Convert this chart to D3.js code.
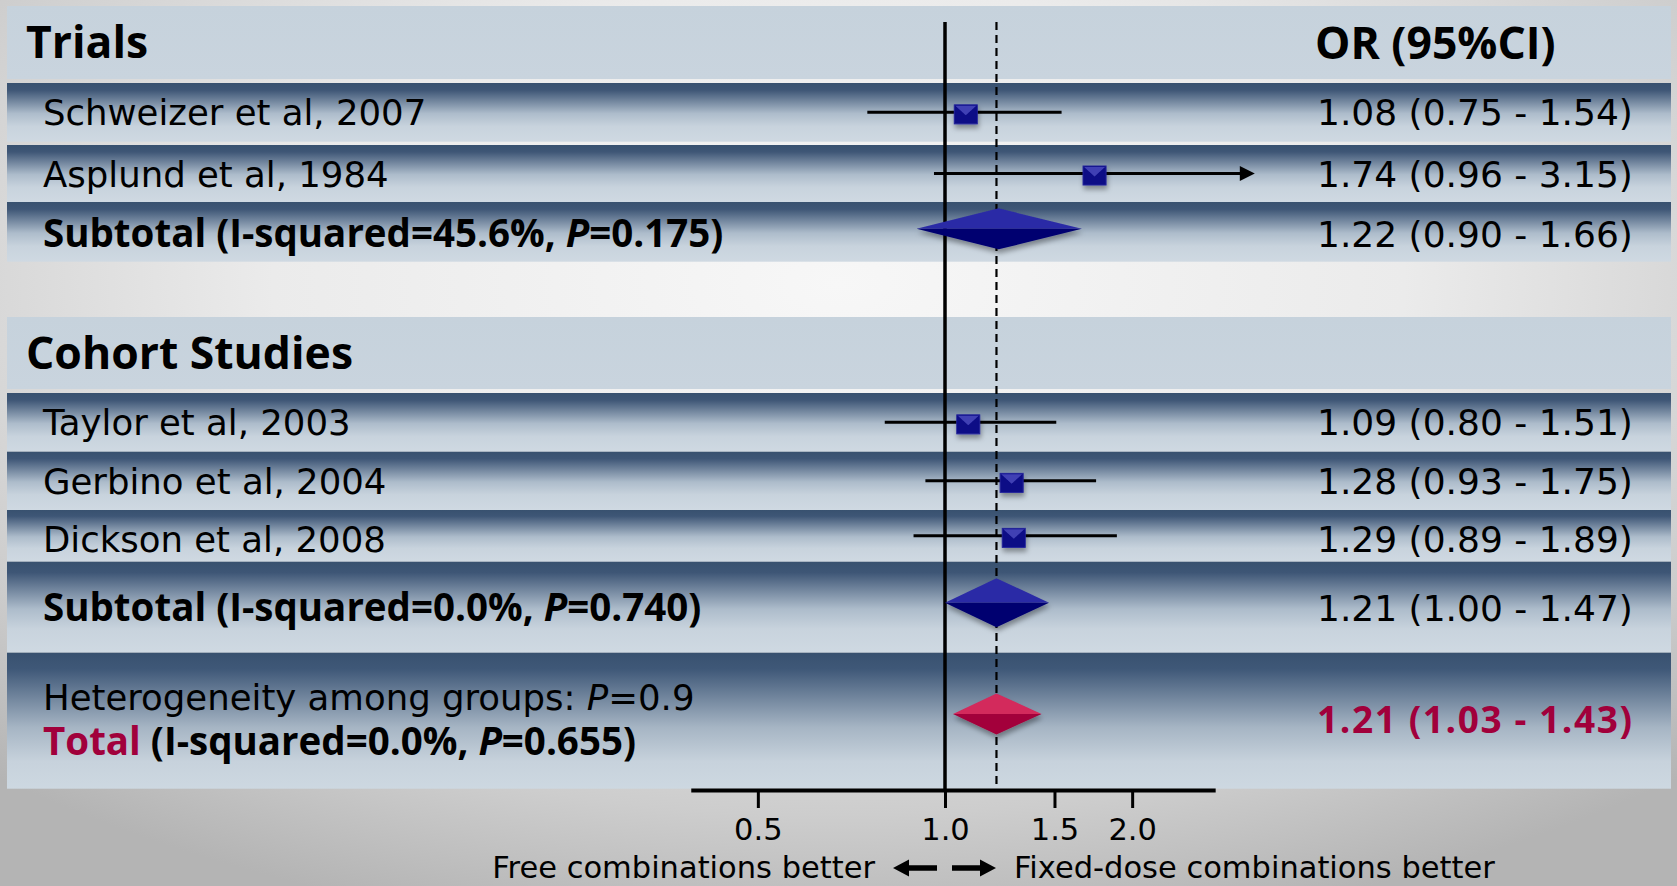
<!DOCTYPE html>
<html>
<head>
<meta charset="utf-8">
<script src="https://cdn.jsdelivr.net/npm/d3@7"></script>
<style>
  html, body { margin: 0; padding: 0; overflow: hidden; }
  svg { display: block; font-family: "DejaVu Sans", "Open Sans", sans-serif; }
  .b { font-family: "Open Sans", "DejaVu Sans", sans-serif; font-weight: bold; }
</style>
</head>
<body>
<svg width="1677" height="886"></svg>
<script>
// study level data
var studies   = ["Schweizer et al, 2007", "Asplund et al, 1984", "Taylor et al, 2003", "Gerbino et al, 2004", "Dickson et al, 2008"];
var studyOR   = [1.08, 1.74, 1.09, 1.28, 1.29];
var studyLo   = [0.75, 0.96, 0.80, 0.93, 0.89];
var studyHi   = [1.54, 3.15, 1.51, 1.75, 1.89];

// subgroup pooled estimates
var groups    = ["Trials", "Cohort Studies"];
var subI2     = ["45.6%", "0.0%"];
var subP      = ["0.175", "0.740"];
var subOR     = [1.22, 1.21];
var subLo     = [0.90, 1.00];
var subHi     = [1.66, 1.47];

// overall
var totalOR = 1.21, totalLo = 1.03, totalHi = 1.43;
var totalI2 = "0.0%", totalP = "0.655", hetP = "0.9";

// axis
var tickValues = [0.5, 1.0, 1.5, 2.0];
var axisExtent = [0.39, 2.72];
var leftLabel = "Free combinations better", rightLabel = "Fixed-dose combinations better";

var svg = d3.select("svg"),
    width = +svg.attr("width"),
    height = +svg.attr("height");

var fmt = d3.format(".2f");

// log scale, 1.0 sits on the no-effect line
var x = d3.scaleLog().domain([0.5, 2]).range([945 - 270 * Math.LN2, 945 + 270 * Math.LN2]);

// row layout (heights in px)
var layout = [
  {type: "header", g: 0, h: 73},
  {type: "gap", h: 4},
  {type: "study", i: 0, h: 58.7},
  {type: "gap", h: 3.3},
  {type: "study", i: 1, h: 57},
  {type: "sub", g: 0, h: 59.7},
  {type: "gap", h: 55.3},
  {type: "header", g: 1, h: 72},
  {type: "gap", h: 4},
  {type: "study", i: 2, h: 58.7},
  {type: "study", i: 3, h: 58.3},
  {type: "study", i: 4, h: 51.7},
  {type: "sub", g: 1, h: 91},
  {type: "total", h: 136}
];
var acc = 0;
layout.forEach(function(r) { r.u0 = acc; acc += r.h; });
var y = d3.scaleLinear().domain([0, acc]).range([6, 6 + acc]);

var bandX0 = 7, bandX1 = 1671, labelX = 43, valueX = 1317;
var fs = 35.5, fsVal = 36, fsBold = 38.5, fsHead = 44.5, fsAxis = 30.5;

// defs
var defs = svg.append("defs");
function grad(id, stops) {
  var g = defs.append("linearGradient").attr("id", id)
      .attr("x1", 0).attr("y1", 0).attr("x2", 0).attr("y2", 1);
  stops.forEach(function(s) { g.append("stop").attr("offset", s[0]).attr("stop-color", s[1]); });
}
var bg = defs.append("radialGradient").attr("id", "bg")
    .attr("cx", "50%").attr("cy", "32%").attr("r", "75%");
[[0, "#f7f7f7"], [0.45, "#ebebeb"], [0.8, "#cdcdcd"], [1, "#b4b4b4"]].forEach(function(s) {
  bg.append("stop").attr("offset", s[0]).attr("stop-color", s[1]);
});
grad("hdr", [[0, "#c6d2dc"], [1, "#c9d4de"]]);
grad("row", [[0, "#38516f"], [0.12, "#3e5676"], [0.52, "#adbccb"], [0.74, "#c8d3dd"], [1, "#cfd9e2"]]);
grad("tot", [[0, "#38516f"], [0.12, "#3f5878"], [0.55, "#a6b5c4"], [0.8, "#c7d2dc"], [1, "#cdd8e1"]]);

var sh = defs.append("filter").attr("id", "shadow").attr("x", "-30%").attr("y", "-30%").attr("width", "160%").attr("height", "190%");
sh.append("feDropShadow").attr("dx", 1).attr("dy", 4).attr("stdDeviation", 2.5)
  .attr("flood-color", "#000").attr("flood-opacity", 0.35);

svg.append("rect").attr("width", width).attr("height", height).attr("fill", "url(#bg)");

// bands
var bands = layout.filter(function(r) { return r.type !== "gap"; });
svg.append("g").selectAll("rect").data(bands).join("rect")
    .attr("x", bandX0).attr("width", bandX1 - bandX0)
    .attr("y", function(r) { return y(r.u0); })
    .attr("height", function(r) { return y(r.u0 + r.h) - y(r.u0); })
    .attr("fill", function(r) { return r.type === "header" ? "url(#hdr)" : r.type === "total" ? "url(#tot)" : "url(#row)"; });

// reference lines
var lineTop = 22, axisY = 790;
svg.append("line").attr("x1", x(1)).attr("x2", x(1)).attr("y1", lineTop).attr("y2", axisY)
    .attr("stroke", "#000").attr("stroke-width", 3.5);
svg.append("line").attr("x1", x(totalOR)).attr("x2", x(totalOR)).attr("y1", lineTop).attr("y2", axisY + 1)
    .attr("stroke", "#000").attr("stroke-width", 2.2).attr("stroke-dasharray", "8,5");

// texts
var txt = svg.append("g").attr("fill", "#000");
function rowOf(type, key, val) {
  return layout.filter(function(r) { return r.type === type && r[key] === val; })[0];
}

// headers
groups.forEach(function(gname, g) {
  var r = rowOf("header", "g", g);
  txt.append("text").attr("class", "b").attr("x", 26).attr("y", y(r.u0) + 52)
      .attr("font-size", fsHead).text(gname);
});
txt.append("text").attr("class", "b").attr("x", 1315).attr("y", y(0) + 53)
    .attr("font-size", fsHead).text("OR (95%CI)");

// study rows
var marks = svg.append("g");
studies.forEach(function(name, i) {
  var r = rowOf("study", "i", i),
      top = y(r.u0), cy = top + r.h / 2;
  txt.append("text").attr("x", labelX).attr("y", top + 42).attr("font-size", fs).text(name);
  txt.append("text").attr("x", valueX).attr("y", top + 42).attr("font-size", fsVal)
      .text(fmt(studyOR[i]) + " (" + fmt(studyLo[i]) + " - " + fmt(studyHi[i]) + ")");

  var hi = studyHi[i], clipped = hi > axisExtent[1];
  marks.append("line").attr("x1", x(studyLo[i])).attr("x2", clipped ? x(hi) - 12 : x(hi))
      .attr("y1", cy).attr("y2", cy).attr("stroke", "#000").attr("stroke-width", 3);
  if (clipped) {
    marks.append("path")
        .attr("d", "M" + x(hi) + "," + cy + "L" + (x(hi) - 15) + "," + (cy - 7.5) + "L" + (x(hi) - 15) + "," + (cy + 7.5) + "Z")
        .attr("fill", "#000");
  }
  var w = 23, h = 19, cx = x(studyOR[i]), sy = cy + 2;
  var sq = marks.append("g").attr("filter", "url(#shadow)");
  sq.append("rect").attr("x", cx - w / 2).attr("y", sy - h / 2).attr("width", w).attr("height", h)
      .attr("fill", "#0c0c86").attr("stroke", "#23239a").attr("stroke-width", 1);
  sq.append("path")
      .attr("d", "M" + (cx - w / 2 + 1) + "," + (sy - h / 2 + 1) + "L" + (cx + w / 2 - 1) + "," + (sy - h / 2 + 1) + "L" + cx + "," + (sy + 1) + "Z")
      .attr("fill", "#4040b4");
});

function diamond(lo, est, hi, cy, hh, cTop, cBot) {
  var g = marks.append("g").attr("filter", "url(#shadow)");
  g.append("path").attr("d", "M" + x(lo) + "," + cy + "L" + x(est) + "," + (cy - hh) + "L" + x(hi) + "," + cy + "Z").attr("fill", cTop);
  g.append("path").attr("d", "M" + x(lo) + "," + cy + "L" + x(est) + "," + (cy + hh) + "L" + x(hi) + "," + cy + "Z").attr("fill", cBot);
}

// subtotals
groups.forEach(function(gname, g) {
  var r = rowOf("sub", "g", g),
      cy = y(r.u0) + r.h * 0.45;
  var t = txt.append("text").attr("class", "b").attr("x", labelX).attr("y", cy + 18.5).attr("font-size", fsBold);
  t.append("tspan").text("Subtotal (I-squared=" + subI2[g] + ", ");
  t.append("tspan").attr("font-style", "italic").text("P");
  t.append("tspan").text("=" + subP[g] + ")");
  txt.append("text").attr("x", valueX).attr("y", cy + 18.5).attr("font-size", fsVal)
      .text(fmt(subOR[g]) + " (" + fmt(subLo[g]) + " - " + fmt(subHi[g]) + ")");
  diamond(subLo[g], subOR[g], subHi[g], cy, g === 0 ? 20.5 : 24.5, "#2b2ba6", "#02026f");
});

// total
var tr = layout[layout.length - 1],
    tcy = y(tr.u0) + tr.h * 0.45;
var het = txt.append("text").attr("x", labelX).attr("y", tcy - 4).attr("font-size", fs);
het.append("tspan").text("Heterogeneity among groups: ");
het.append("tspan").attr("font-style", "italic").text("P");
het.append("tspan").text("=" + hetP);
var tot = txt.append("text").attr("class", "b").attr("x", labelX).attr("y", tcy + 41).attr("font-size", fsBold);
tot.append("tspan").attr("fill", "#a1003b").text("Total");
tot.append("tspan").text(" (I-squared=" + totalI2 + ", ");
tot.append("tspan").attr("font-style", "italic").text("P");
tot.append("tspan").text("=" + totalP + ")");
txt.append("text").attr("class", "b").attr("x", valueX).attr("y", tcy + 19.5).attr("font-size", 37)
    .attr("letter-spacing", 1.6).attr("fill", "#a1003b")
    .text(fmt(totalOR) + " (" + fmt(totalLo) + " - " + fmt(totalHi) + ")");
diamond(totalLo, totalOR, totalHi, tcy, 20.5, "#d3295c", "#a3003a");

// axis
var xa = x.copy().domain(axisExtent).range(axisExtent.map(x));
var ax = svg.append("g").attr("transform", "translate(0," + axisY + ")")
    .call(d3.axisBottom(xa).tickValues(tickValues).tickFormat(d3.format(".1f")).tickSize(18).tickSizeOuter(0));
ax.select(".domain").attr("stroke-width", 4);
ax.selectAll(".tick line").attr("stroke-width", 3);
ax.selectAll(".tick text").attr("y", 50).attr("dy", 0).attr("font-size", fsAxis)
    .attr("font-family", "'DejaVu Sans', sans-serif").attr("fill", "#000");

// direction labels
var x1 = x(1), ly = 878, ay = 868;
svg.append("text").attr("x", x1 - 70).attr("y", ly).attr("text-anchor", "end").attr("font-size", fsAxis).text(leftLabel);
svg.append("text").attr("x", x1 + 69).attr("y", ly).attr("font-size", fsAxis).text(rightLabel);
function arrow(xs, xe) {
  var dir = xe > xs ? 1 : -1, hx = xe - dir * 16;
  svg.append("path")
      .attr("d", "M" + xs + "," + (ay - 2.7) + "L" + hx + "," + (ay - 2.7) + "L" + hx + "," + (ay - 8.5) +
                 "L" + xe + "," + ay + "L" + hx + "," + (ay + 8.5) + "L" + hx + "," + (ay + 2.7) + "L" + xs + "," + (ay + 2.7) + "Z")
      .attr("fill", "#000");
}
arrow(x1 - 8, x1 - 52);
arrow(x1 + 7, x1 + 51);
</script>
</body>
</html>
